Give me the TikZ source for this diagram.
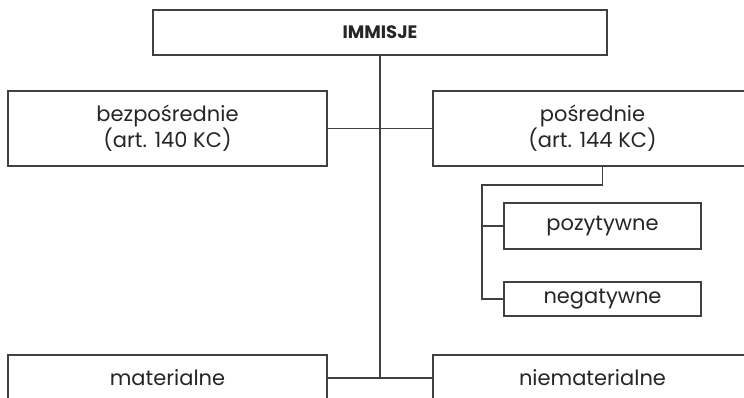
\documentclass[tikz,border=0pt]{standalone}
\usepackage{fontspec}
\setmainfont{Poppins}
\begin{document}
\begin{tikzpicture}[x=1pt,y=1pt,
  box/.style={draw=black!75, line width=1.3pt, fill=white, inner sep=0pt, align=center,
    text=black!85, font=\fontsize{21}{24}\selectfont},
  conn/.style={draw=black!75, line width=1.3pt}]
\useasboundingbox (0,0) rectangle (744,-397);
\clip (0,0) rectangle (744,-397);
\node[box, minimum width=454pt, minimum height=45pt, font=\fontsize{18}{20}\selectfont\bfseries] (top) at (380,-32.5) {IMMISJE};
\node[box, minimum width=319pt, minimum height=75pt] (bez) at (167.5,-128.5) {bezpośrednie\\(art. 140 KC)};
\node[box, minimum width=319pt, minimum height=75pt] (pos) at (592.5,-128.5) {pośrednie\\(art. 144 KC)};
\node[box, minimum width=197pt, minimum height=46pt] (pozyt) at (602.5,-226) {pozytywne};
\node[box, minimum width=197pt, minimum height=34pt] (negat) at (602.5,-299) {negatywne};
\node[box, minimum width=319pt, minimum height=46pt] (mat) at (167.5,-378) {materialne};
\node[box, minimum width=319pt, minimum height=46pt] (niemat) at (592.5,-378) {niematerialne};
\coordinate (jb) at (380,-378);
\coordinate (rail) at (482,-185);
\draw[conn] (top.south) -- (jb);
\draw[conn] (bez.east) -- (pos.west);
\draw[conn] (mat.east) -- (niemat.west);
\draw[conn] (pos.south -| pozyt.north) |- (rail) |- (negat.west);
\draw[conn] (rail |- pozyt.west) -- (pozyt.west);
\end{tikzpicture}
\end{document}
